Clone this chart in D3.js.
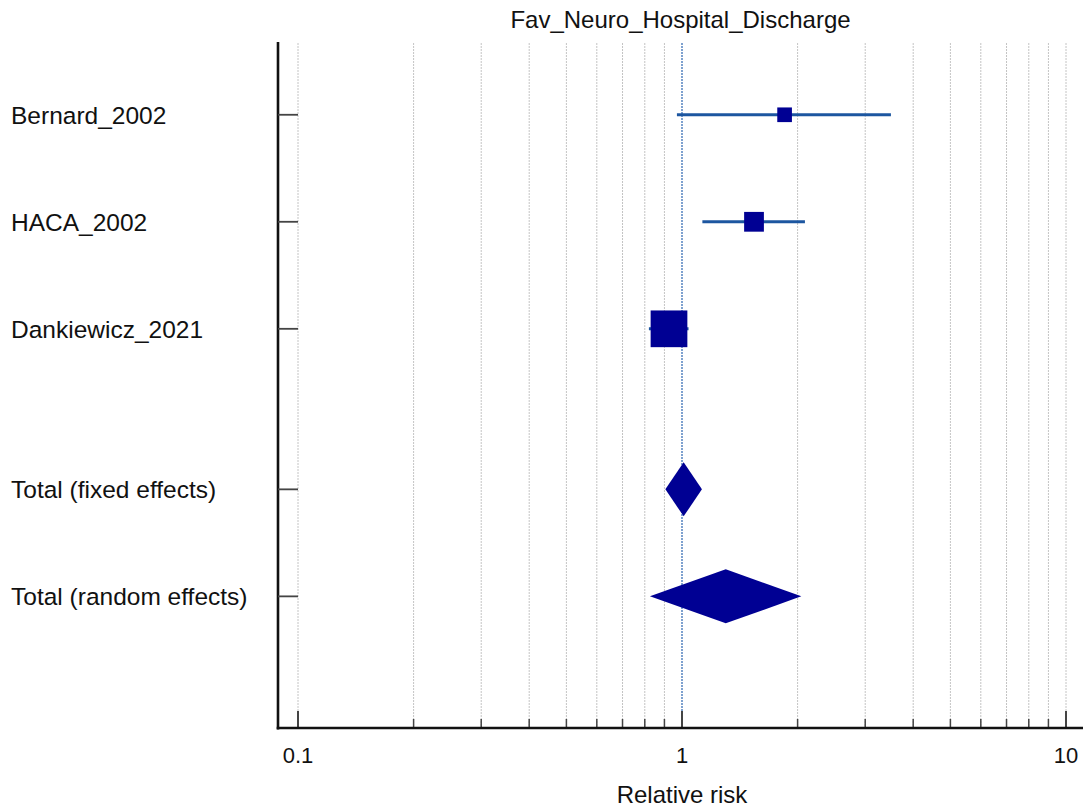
<!DOCTYPE html>
<html><head><meta charset="utf-8">
<script src="https://cdn.jsdelivr.net/npm/d3@7"></script>
<style>html,body{margin:0;padding:0;background:#fff;}svg{display:block;font-family:"Liberation Sans",Arial,Helvetica,sans-serif;}</style>
</head><body>
<svg id="c" width="1083" height="812"></svg>
<script>
// ---- data ----
const title = "Fav_Neuro_Hospital_Discharge";
const xTitle = "Relative risk";
const studies = ["Bernard_2002", "HACA_2002", "Dankiewicz_2021"];
const studyRR = [1.85, 1.54, 0.925];
const studyLower = [0.97, 1.13, 0.82];
const studyUpper = [3.50, 2.09, 1.04];
const studyWeight = [11, 20, 69];
const totals = ["Total (fixed effects)", "Total (random effects)"];
const totalRR = [1.01, 1.30];
const totalLower = [0.905, 0.825];
const totalUpper = [1.127, 2.045];
const majorTicks = [0.1, 1, 10];
const tickLabels = ["0.1", "1", "10"];
const rowPos = [0.68, 1.68, 2.68, 4.18, 5.18];

// ---- layout ----
const svg = d3.select("#c");
const pLeft = 278, pRight = 1083, pTop = 42, pBottom = 728;
const x = d3.scaleLog().domain([0.1, 10]).range([298, 1066]);
const y = d3.scaleLinear().domain([0, 6.41]).range([pTop, pBottom]);

const allTicks = [];
[0.1, 1].forEach(b => { for (let k = 1; k <= 9; k++) allTicks.push(+(b * k).toFixed(2)); });
allTicks.push(10);

// gridlines
svg.append("g").selectAll("line").data(allTicks.filter(d => d !== 1)).join("line")
  .attr("x1", d => x(d)).attr("x2", d => x(d))
  .attr("y1", pTop + 1).attr("y2", pBottom)
  .attr("stroke", "#c4c4c4").attr("stroke-width", 1).attr("stroke-dasharray", "2,1");

// null line at 1
svg.append("line").attr("x1", x(1)).attr("x2", x(1)).attr("y1", pTop + 1).attr("y2", pBottom)
  .attr("stroke", "#2a64b0").attr("stroke-width", 1.2).attr("stroke-dasharray", "2,1");

// x axis ticks
svg.append("g").selectAll("line").data(allTicks).join("line")
  .attr("x1", d => x(d)).attr("x2", d => x(d))
  .attr("y1", d => majorTicks.includes(d) ? pBottom - 17 : pBottom - 9).attr("y2", pBottom)
  .attr("stroke", "#444").attr("stroke-width", d => majorTicks.includes(d) ? 2 : 1.5);

// tick labels
svg.append("g").selectAll("text").data(majorTicks).join("text")
  .attr("x", d => x(d)).attr("y", 763).attr("text-anchor", "middle")
  .attr("font-size", 22).attr("fill", "#111").text((d, i) => tickLabels[i]);

// axes lines
svg.append("line").attr("x1", pLeft).attr("x2", pLeft).attr("y1", pTop).attr("y2", pBottom + 1.5)
  .attr("stroke", "#111").attr("stroke-width", 2.6);
svg.append("line").attr("x1", pLeft - 1.3).attr("x2", pRight).attr("y1", pBottom).attr("y2", pBottom)
  .attr("stroke", "#111").attr("stroke-width", 2.6);

// row ticks on y axis
const allRows = studies.concat(totals);
svg.append("g").selectAll("line").data(rowPos).join("line")
  .attr("x1", pLeft).attr("x2", x(0.1)).attr("y1", d => y(d)).attr("y2", d => y(d))
  .attr("stroke", "#444").attr("stroke-width", 1.8);

// row labels
svg.append("g").selectAll("text").data(allRows).join("text")
  .attr("x", 11).attr("y", (d, i) => y(rowPos[i])).attr("dy", "0.36em")
  .attr("font-size", 24.5).attr("fill", "#111").text(d => d);

// study CIs
const navy = "#000093";
svg.append("g").selectAll("line").data(studies).join("line")
  .attr("x1", (d, i) => x(studyLower[i])).attr("x2", (d, i) => x(studyUpper[i]))
  .attr("y1", (d, i) => y(rowPos[i])).attr("y2", (d, i) => y(rowPos[i]))
  .attr("stroke", "#1c56a0").attr("stroke-width", 3);

// study squares (area proportional to weight)
const sz = d3.scaleSqrt().domain([0, 100]).range([0, 44.2]);
svg.append("g").selectAll("rect").data(studies).join("rect")
  .attr("x", (d, i) => x(studyRR[i]) - sz(studyWeight[i]) / 2)
  .attr("y", (d, i) => y(rowPos[i]) - sz(studyWeight[i]) / 2)
  .attr("width", (d, i) => sz(studyWeight[i]))
  .attr("height", (d, i) => sz(studyWeight[i]))
  .attr("fill", navy);

// total diamonds
const dh = 27;
svg.append("g").selectAll("path").data(totals).join("path")
  .attr("d", (d, i) => {
    const yc = y(rowPos[3 + i]);
    return `M${x(totalLower[i])},${yc}L${x(totalRR[i])},${yc - dh}L${x(totalUpper[i])},${yc}L${x(totalRR[i])},${yc + dh}Z`;
  })
  .attr("fill", navy);

// titles
svg.append("text").attr("x", (pLeft + pRight) / 2).attr("y", 28).attr("text-anchor", "middle")
  .attr("font-size", 24).attr("fill", "#111").text(title);
svg.append("text").attr("x", x(1)).attr("y", 803).attr("text-anchor", "middle")
  .attr("font-size", 24).attr("fill", "#111").text(xTitle);
</script>
</body></html>
